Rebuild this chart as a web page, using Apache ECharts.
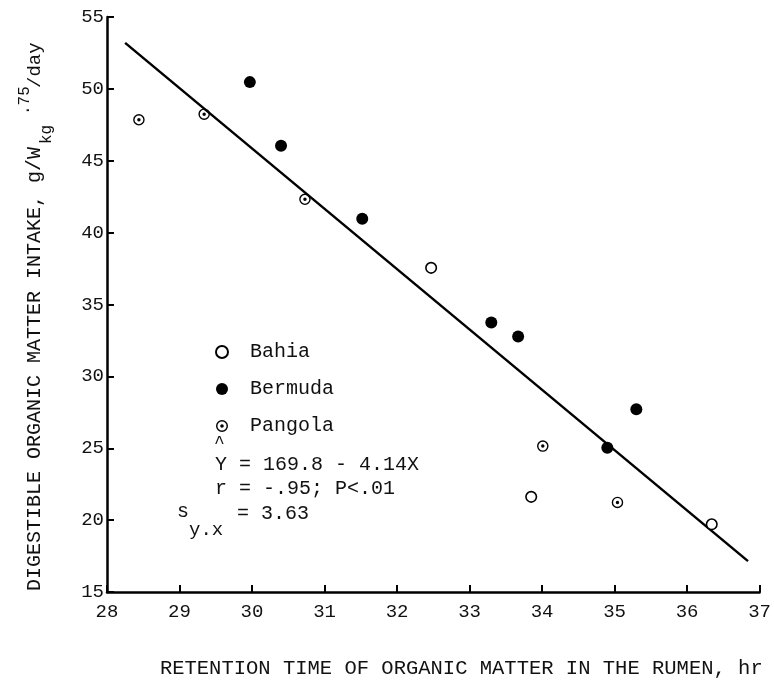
<!DOCTYPE html>
<html>
<head>
<meta charset="utf-8">
<script src="https://cdn.jsdelivr.net/npm/echarts@6/dist/echarts.min.js"></script>
<style>
html,body{margin:0;padding:0;background:#fff;}
#chart{width:774px;height:684px;}
</style>
</head>
<body>
<div id="chart"></div>
<script>
// Data
const bahia = [[32.47, 37.55], [33.85, 21.62], [36.34, 19.71]];
const bermuda = [[29.97, 50.47], [30.40, 46.04], [31.52, 40.96], [33.30, 33.75], [33.67, 32.77], [34.90, 25.03], [35.30, 27.72]];
const pangola = [[28.44, 47.85], [29.34, 48.24], [30.73, 42.32], [34.01, 25.15], [35.04, 21.23]];
const regressionLine = [[28.25, 53.2], [36.84, 17.15]];
const xTicks = [28, 29, 30, 31, 32, 33, 34, 35, 36, 37];
const yTicks = [15, 20, 25, 30, 35, 40, 45, 50, 55];

const FONT = 'Liberation Mono';
const pangolaSymbol = 'path://M10,0 A10,10 0 1,1 -10,0 A10,10 0 1,1 10,0 Z M7.6,0 A7.6,7.6 0 1,0 -7.6,0 A7.6,7.6 0 1,0 7.6,0 Z M3,0 A3,3 0 1,1 -3,0 A3,3 0 1,1 3,0 Z';
const f = (s) => s + 'px "' + FONT + '"';

const chart = echarts.init(document.getElementById('chart'), null, {renderer: 'canvas'});
const axisCommon = {
  axisLine: {show: true, onZero: false, lineStyle: {color: '#000', width: 2.5}},
  axisTick: {show: true, inside: true, length: 7, lineStyle: {color: '#000', width: 2}},
  splitLine: {show: false},
  axisLabel: {color: '#111', fontFamily: FONT, fontSize: 19}
};
chart.setOption({
  backgroundColor: '#fff',
  animation: false,
  grid: {left: 107, right: 7, top: 17, bottom: 81, containLabel: false},
  xAxis: Object.assign({}, axisCommon, {
    type: 'value', min: xTicks[0], max: xTicks[xTicks.length - 1], interval: 1,
    axisLabel: Object.assign({}, axisCommon.axisLabel, {margin: 10}),
    name: 'RETENTION TIME OF ORGANIC MATTER IN THE RUMEN, hr',
    nameLocation: 'middle', nameGap: 66,
    nameTextStyle: {color: '#111', fontFamily: FONT, fontSize: 20.5, padding: [0, 0, 0, 56]}
  }),
  yAxis: Object.assign({}, axisCommon, {
    type: 'value', min: yTicks[0], max: yTicks[yTicks.length - 1], interval: 5,
    axisLabel: Object.assign({}, axisCommon.axisLabel, {margin: 3})
  }),
  legend: {
    show: true, orient: 'vertical', left: 215, top: 342, padding: 0,
    itemWidth: 46, itemHeight: 12, itemGap: 17,
    textStyle: {color: '#111', fontFamily: FONT, fontSize: 20},
    data: ['Bahia', 'Bermuda', 'Pangola']
  },
  series: [
    {
      type: 'line', name: 'fit', data: regressionLine, symbol: 'none',
      lineStyle: {color: '#000', width: 2.5}, silent: true, z: 1
    },
    {
      type: 'scatter', name: 'Bahia', data: bahia, symbol: 'circle', symbolSize: 10.5,
      itemStyle: {color: '#fff', borderColor: '#000', borderWidth: 1.6, opacity: 1}, z: 3
    },
    {
      type: 'scatter', name: 'Bermuda', data: bermuda, symbol: 'circle', symbolSize: 12,
      itemStyle: {color: '#000', opacity: 1}, z: 3
    },
    {
      type: 'scatter', name: 'Pangola', data: pangola, symbol: pangolaSymbol, symbolSize: 11.5,
      itemStyle: {color: '#000', opacity: 1}, z: 3
    }
  ],
  graphic: [
    {type: 'text', x: 214, y: 443, style: {text: '^', fill: '#111', font: f(18), verticalAlign: 'middle'}},
    {type: 'text', x: 215, y: 465, style: {text: 'Y = 169.8 - 4.14X', fill: '#111', font: f(20), verticalAlign: 'middle'}},
    {type: 'text', x: 215, y: 489, style: {text: 'r = -.95; P<.01', fill: '#111', font: f(20), verticalAlign: 'middle'}},
    {type: 'text', x: 177, y: 512, style: {text: 's', fill: '#111', font: f(20), verticalAlign: 'middle'}},
    {type: 'text', x: 189, y: 530, style: {text: 'y.x', fill: '#111', font: f(19), verticalAlign: 'middle'}},
    {type: 'text', x: 237, y: 514, style: {text: '= 3.63', fill: '#111', font: f(20), verticalAlign: 'middle'}},
    {
      type: 'group', x: 35, y: 591, rotation: Math.PI / 2,
      children: [
        {type: 'text', x: 0, y: 0, style: {text: 'DIGESTIBLE ORGANIC MATTER INTAKE, g/W', fill: '#111', font: f(20), verticalAlign: 'middle'}},
        {type: 'text', x: 447, y: 12, style: {text: 'kg', fill: '#111', font: f(16), verticalAlign: 'middle'}},
        {type: 'text', x: 476, y: -10, style: {text: '.75', fill: '#111', font: f(16), verticalAlign: 'middle'}},
        {type: 'text', x: 503, y: 0, style: {text: '/day', fill: '#111', font: f(19), verticalAlign: 'middle'}}
      ]
    }
  ]
});
</script>
</body>
</html>
